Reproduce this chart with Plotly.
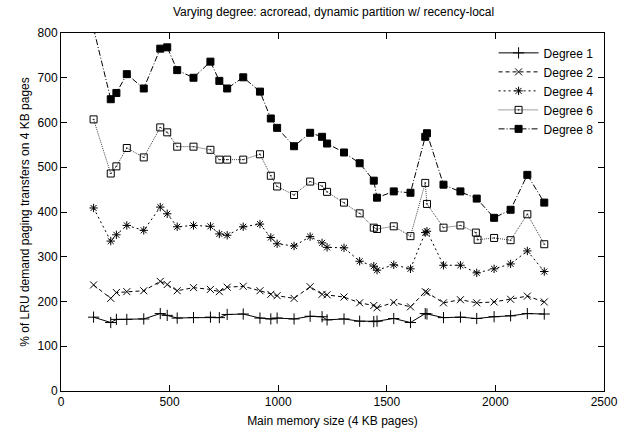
import plotly.graph_objects as go

# Main memory size (4 KB pages)
x_common = [150, 229, 255, 303, 381, 457, 489, 535, 610, 688, 729, 765, 839, 916, 966, 995,
            1073, 1147, 1202, 1225, 1303, 1375, 1440, 1455, 1532, 1609, 1677, 1685, 1761,
            1839, 1914, 1994, 2070, 2147, 2225]
x_deg6 = [150, 229, 255, 303, 381, 457, 489, 535, 610, 688, 729, 765, 839, 916, 966, 995,
          1073, 1147, 1202, 1225, 1303, 1375, 1440, 1455, 1532, 1609, 1677, 1685, 1761,
          1839, 1910, 1918, 1994, 2070, 2147, 2225]

deg1 = [165, 153, 160, 160, 161, 173, 169, 163, 164, 165, 164, 171, 172, 163, 161, 163, 161,
        167, 166, 159, 161, 156, 155, 156, 162, 153, 173, 172, 164, 165, 162, 166, 168, 173, 172]
deg2 = [237, 207, 220, 222, 224, 245, 238, 224, 231, 227, 222, 232, 234, 224, 216, 213, 207,
        233, 216, 215, 210, 197, 191, 186, 198, 188, 222, 220, 197, 204, 197, 199, 205, 212, 199]
deg4 = [409, 335, 349, 370, 359, 411, 396, 367, 370, 368, 351, 348, 367, 373, 343, 329, 324,
        345, 331, 321, 320, 290, 279, 270, 282, 273, 354, 357, 281, 281, 264, 273, 284, 313, 267]
deg6 = [607, 486, 502, 543, 522, 589, 578, 546, 546, 539, 517, 517, 517, 529, 481, 457, 438,
        468, 458, 445, 421, 397, 365, 362, 368, 346, 465, 418, 365, 370, 354, 338, 342, 337,
        395, 328]
deg8 = [810, 652, 666, 708, 676, 765, 768, 717, 700, 736, 693, 676, 701, 669, 609, 588, 547,
        577, 568, 553, 533, 509, 470, 432, 446, 443, 568, 576, 461, 446, 430, 387, 405, 483, 421]

series = [
    ("Degree 1", x_common, deg1, "solid", "cross-thin-open", 8, "black"),
    ("Degree 2", x_common, deg2, "4px,3px", "x-thin-open", 7, "black"),
    ("Degree 4", x_common, deg4, "2px,3px", "asterisk-open", 7, "black"),
    ("Degree 6", x_deg6, deg6, "1px,1px", "square-open-dot", 7, "#444444"),
    ("Degree 8", x_common, deg8, "6px,2px,1px,2px", "square", 7, "black"),
]

FONT = "Liberation Sans, Arial, Helvetica, sans-serif"

fig = go.Figure()
for name, xs, ys, dash, sym, msize, col in series:
    fig.add_trace(go.Scatter(
        x=xs, y=ys, name=name, mode="lines+markers",
        line=dict(color=col, width=1, dash=dash),
        marker=dict(symbol=sym, size=msize, color="black",
                    line=dict(color="black", width=1)),
    ))

axis_common = dict(
    showline=True, linecolor="black", linewidth=1, mirror="ticks",
    ticks="inside", ticklen=6, tickcolor="black", tickwidth=1,
    showgrid=False, zeroline=False,
    tickfont=dict(family=FONT, size=12, color="black"),
)

fig.update_layout(
    width=630, height=438,
    margin=dict(l=61, r=24, t=33, b=40),
    paper_bgcolor="white", plot_bgcolor="white",
    font=dict(family=FONT, size=12, color="black"),
    title=dict(text="Varying degree: acroread, dynamic partition w/ recency-local",
               x=0.5294, xanchor="center", y=0.972, yanchor="middle",
               font=dict(family=FONT, size=12, color="black")),
    xaxis=dict(range=[0, 2500], dtick=500, tick0=0,
               title=dict(text="Main memory size (4 KB pages)", standoff=8,
                          font=dict(family=FONT, size=12)),
               **axis_common),
    yaxis=dict(range=[0, 800], dtick=100, tick0=0,
               title=dict(text="% of LRU demand paging transfers on 4 KB pages", standoff=5,
                          font=dict(family=FONT, size=12)),
               **axis_common),
    legend=dict(x=0.99, xanchor="right", y=0.985, yanchor="top",
                bgcolor="rgba(255,255,255,0)", borderwidth=0,
                font=dict(family=FONT, size=12, color="black"),
                itemwidth=40, tracegroupgap=0),
    showlegend=True,
)

fig.write_html("out.html")
